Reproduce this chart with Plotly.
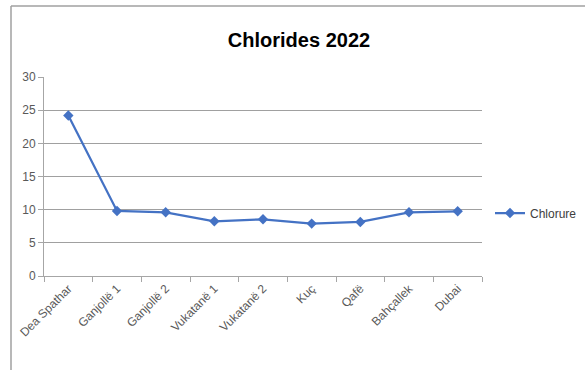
import plotly.graph_objects as go

categories = ["Dea Spathar", "Ganjollë 1", "Ganjollë 2", "Vukatanë 1", "Vukatanë 2",
              "Kuç", "Qafë", "Bahçallek", "Dubai"]
chlorure = [24.2, 9.8, 9.6, 8.25, 8.55, 7.9, 8.15, 9.6, 9.75]
y_ticks = [0, 5, 10, 15, 20, 25, 30]

W, H = 585, 370
L, R, T, B = 44, 103, 77, 94
pw, ph = W - L - R, H - T - B

def px_x(x):
    return (x - L) / pw

def px_y(y):
    return (H - B - y) / ph

fig = go.Figure()
fig.add_trace(go.Scatter(
    x=categories, y=chlorure, name="Chlorure", mode="lines+markers",
    line=dict(color="#4472C4", width=2.25),
    marker=dict(symbol="diamond", size=8, color="#4472C4"),
))

font_family = "Liberation Sans Narrow, Arial Narrow, Liberation Sans, sans-serif"

fig.update_layout(
    width=W, height=H,
    margin=dict(l=L, r=R, t=T, b=B, autoexpand=False),
    paper_bgcolor="white", plot_bgcolor="white",
    font=dict(family=font_family, color="#595959", size=12),
    title=dict(text="<b>Chlorides 2022</b>", x=px_x(299), xanchor="center",
               xref="paper", y=1 - 40 / H, yanchor="middle",
               font=dict(size=20, color="black", family=font_family)),
    showlegend=True,
    legend=dict(x=px_x(490), y=px_y(213), xanchor="left", yanchor="middle",
                font=dict(size=12, color="#404040"), bgcolor="rgba(0,0,0,0)",
                itemwidth=30),
    xaxis=dict(range=[-0.5, 8.5], tickangle=-45, showgrid=False, automargin=False,
               showline=True, linecolor="#a6a6a6", linewidth=1,
               ticks="outside", tickson="boundaries", ticklen=5, tickcolor="#a6a6a6",
               tickfont=dict(size=12, color="#595959"), fixedrange=True),
    yaxis=dict(range=[0, 30], tickvals=y_ticks, showgrid=True, gridcolor="#a0a0a0",
               gridwidth=1, showline=True, linecolor="#a6a6a6", linewidth=1,
               automargin=False,
               ticks="outside", ticklen=5, tickcolor="#a6a6a6", zeroline=False,
               tickfont=dict(size=12, color="#595959"), fixedrange=True),
)

# Outer chart frame (left and top edges visible in the reference)
fig.add_shape(type="line", xref="paper", yref="paper",
              x0=px_x(11), y0=px_y(6), x1=px_x(W + 5), y1=px_y(6),
              line=dict(color="#a0a0a0", width=1.5))
fig.add_shape(type="line", xref="paper", yref="paper",
              x0=px_x(11), y0=px_y(6), x1=px_x(11), y1=px_y(H + 5),
              line=dict(color="#a0a0a0", width=1.5))

fig.write_html("out.html", config={"displayModeBar": False},
               post_script="document.body.style.margin='0';")
